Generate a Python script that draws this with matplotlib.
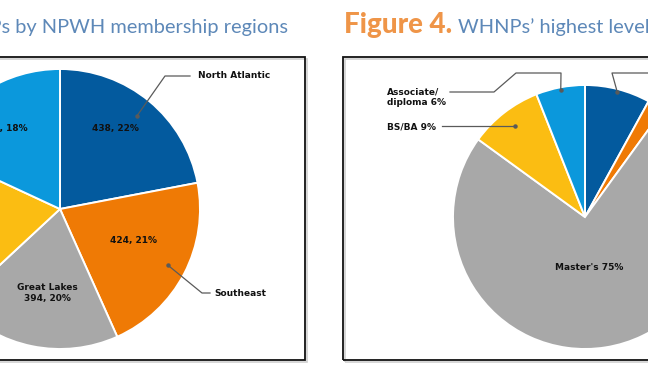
import numpy as np
import matplotlib
matplotlib.use("Agg")
import matplotlib.pyplot as plt
from matplotlib.patches import Rectangle

# Figure 3 - WHNPs by NPWH membership region (clockwise from 12 o'clock)
regions = ["North Atlantic", "Southeast", "Great Lakes", "West", "Northeast"]
region_counts = [438, 424, 394, 375, 360]
region_colors = ["#035a9e", "#ef7a05", "#a8a8a8", "#fbbd12", "#0b98dc"]

# Figure 4 - highest level of education (percent)
education = ["Doctorate", "Other", "Master's", "BS/BA", "Associate/\ndiploma"]
education_pct = [8, 2, 75, 9, 6]
education_colors = ["#035a9e", "#ef7a05", "#a8a8a8", "#fbbd12", "#0b98dc"]

W, H = 648, 367
title_blue = "#5d88b8"
title_orange = "#ef9548"
line_col = "#5a5a5a"
lab = dict(fontsize=6.5, fontweight="bold", color="#111111", family="DejaVu Sans")


def py(y):
    # pixel row (from top) -> data y
    return H - y


fig = plt.figure(figsize=(W / 100, H / 100), dpi=100)
ax = fig.add_axes([0, 0, 1, 1])

# frames (with faint shadow)
for x0, x1 in [(-20, 305), (343, 720)]:
    ax.add_patch(Rectangle((x0 + 2, py(362)), x1 - x0, 303, fill=False,
                           ec="#cfcfcf", lw=1.2, zorder=0))
    ax.add_patch(Rectangle((x0, py(360)), x1 - x0, 303, fill=False,
                           ec="#111111", lw=1.3, zorder=1))

wp = dict(edgecolor="white", linewidth=1.4)
c1 = (60, py(209))
r1 = 140
ax.pie(region_counts, colors=region_colors, startangle=90, counterclock=False,
       center=c1, radius=r1, wedgeprops=wp, frame=True)
c2 = (585, py(217))
r2 = 132
ax.pie(education_pct, colors=education_colors, startangle=90, counterclock=False,
       center=c2, radius=r2, wedgeprops=wp, frame=True)

total = sum(region_counts)
pct1 = [round(100 * v / total) for v in region_counts]

# labels inside the left pie (yellow slice label lies outside the crop)
inner_pos = {0: (115, 129, "center"), 1: (134, 241, "center"),
             2: (47, 293, "center"), 4: (28, 129, "right")}
for i, (x, y, ha) in inner_pos.items():
    txt = f"{region_counts[i]}, {pct1[i]}%"
    if regions[i] == "Great Lakes":
        txt = regions[i] + "\n" + txt
    ax.text(x, py(y), txt, ha=ha, va="center", linespacing=1.15, **lab)


def anchor(center, radius, vals, idx, frac):
    cum = np.cumsum([0] + list(vals)) / sum(vals) * 360
    a = np.deg2rad((cum[idx] + cum[idx + 1]) / 2)
    return center[0] + frac * radius * np.sin(a), center[1] + frac * radius * np.cos(a)


def leader(pt, path, text=None, tx=0, ha="left", dy=0):
    xs = [pt[0]] + [p[0] for p in path]
    ys = [pt[1]] + [py(p[1]) if p[1] is not None else pt[1] for p in path]
    ax.plot(xs, ys, color=line_col, lw=0.9, zorder=5)
    ax.plot(*pt, "o", ms=2.2, color=line_col, zorder=6)
    if text:
        ax.text(tx, ys[-1] - dy, text, ha=ha, va="center", linespacing=1.2, **lab)


# outside labels, left pie
a = anchor(c1, r1, region_counts, 0, 0.86)
leader(a, [(165, 76), (190, 76)], regions[0], 198)
a = anchor(c1, r1, region_counts, 1, 0.87)
leader(a, [(202, 293), (210, 293)], regions[1], 214)

# outside labels, right pie
a = anchor(c2, r2, education_pct, 4, 0.98)
leader(a, [(561, 73), (516, 73), (494, 92), (450, 92)],
       f"{education[4]} {education_pct[4]}%", 387, dy=5)
a = anchor(c2, r2, education_pct, 3, 0.87)
leader(a, [(442, None)], f"{education[3]} {education_pct[3]}%", 387, dy=1)
a = anchor(c2, r2, education_pct, 0, 0.98)
leader(a, [(612, 73), (680, 73)])
a = anchor(c2, r2, education_pct, 1, 0.95)
leader(a, [(680, 110)])

ax.text(589, py(268), f"{education[2]} {education_pct[2]}%", ha="center",
        va="center", **lab)

ax.set_xlim(0, W)
ax.set_ylim(0, H)
ax.set_aspect("equal")
ax.axis("off")

# titles: orange bold figure number + blue description on one baseline
blue_font = dict(family="Lato", fontsize=14.4, fontweight="normal", color=title_blue)
orange_font = dict(family="Lato", fontsize=20, fontweight="black", color=title_orange)
t1 = ax.text(288, py(33), "WHNPs by NPWH membership regions", ha="right",
             va="baseline", **blue_font)
t2 = ax.text(344, py(33), "Figure 4.", ha="left", va="baseline", **orange_font)
fig.canvas.draw()
inv = ax.transData.inverted()
x_left = inv.transform(t1.get_window_extent().p0)[0]
ax.text(x_left - 6, py(33), "Figure 3.", ha="right", va="baseline", **orange_font)
x_right = inv.transform(t2.get_window_extent().p1)[0]
ax.text(x_right + 6, py(33), "WHNPs\u2019 highest level of nursing education",
        ha="left", va="baseline", **blue_font)

fig.savefig("out.png", dpi=100)
